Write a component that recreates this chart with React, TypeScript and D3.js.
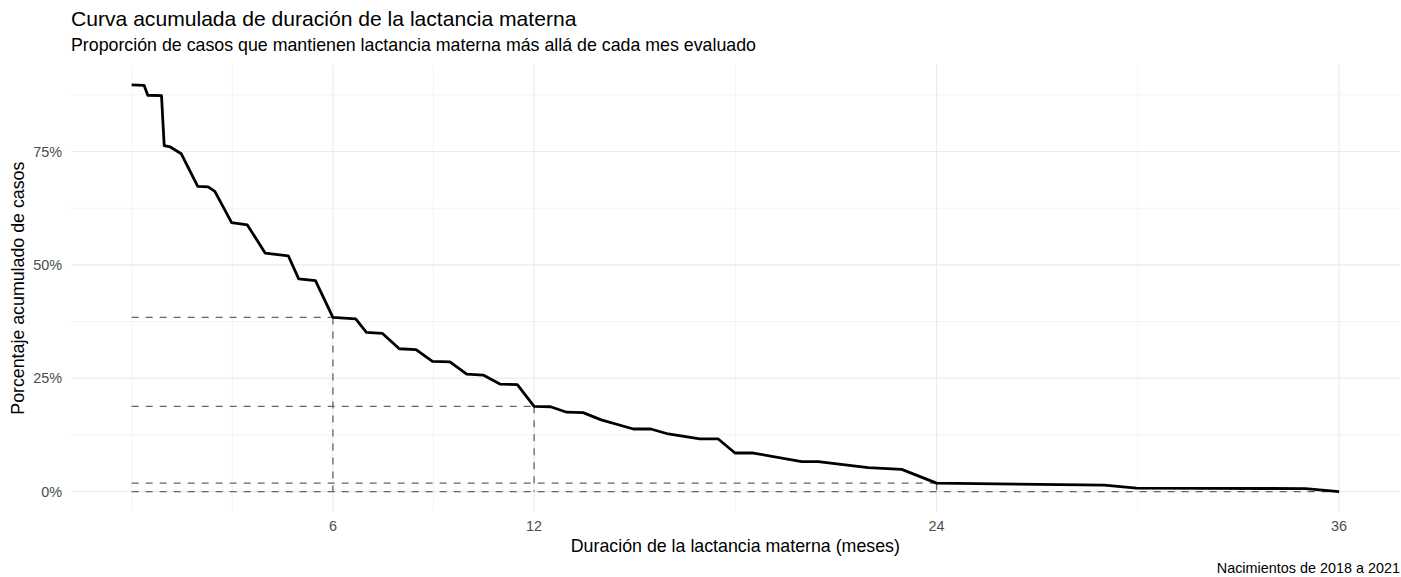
import React from "react";
import * as d3 from "d3";

const months = [0, 0.37, 0.48, 0.89, 0.97, 1.15, 1.48, 1.97, 2.28, 2.48, 2.98, 3.45, 3.98, 4.67, 4.98, 5.48, 6.0, 6.68, 7.0, 7.47, 7.98, 8.48, 8.97, 9.49, 9.99, 10.48, 10.98, 11.5, 12.0, 12.49, 12.97, 13.46, 14.0, 14.96, 15.48, 16.0, 16.94, 17.49, 17.99, 18.53, 19.98, 20.47, 21.96, 22.96, 24.0, 29.0, 29.96, 35.0, 36.0];
const percents = [89.7, 89.6, 87.4, 87.3, 76.3, 76.0, 74.5, 67.3, 67.2, 66.2, 59.3, 58.8, 52.6, 52.0, 46.9, 46.5, 38.4, 38.1, 35.1, 34.9, 31.5, 31.3, 28.7, 28.6, 25.9, 25.7, 23.7, 23.6, 18.8, 18.7, 17.5, 17.4, 15.8, 13.8, 13.8, 12.7, 11.6, 11.6, 8.5, 8.5, 6.6, 6.6, 5.3, 4.9, 1.85, 1.4, 0.75, 0.66, 0];

const markMonths = [6, 12, 24, 36];
const markValues = [38.4, 18.8, 1.85, 0];

const xBreaks = [6, 12, 24, 36];
const xMinor = [0, 3, 9, 18, 30];
const yBreaks = [0, 25, 50, 75];
const yMinor = [12.5, 37.5, 62.5, 87.5];

const title = "Curva acumulada de duración de la lactancia materna";
const subtitle = "Proporción de casos que mantienen lactancia materna más allá de cada mes evaluado";
const xTitle = "Duración de la lactancia materna (meses)";
const yTitle = "Porcentaje acumulado de casos";
const caption = "Nacimientos de 2018 a 2021";

const W = 1401;
const H = 577;
const panel = { left: 71.3, right: 1399.4, top: 64.5, bottom: 511.9 };
const FONT = "'Liberation Sans', Arial, Helvetica, sans-serif";

export default function App() {
  const xMin = d3.min(months)!;
  const xMax = d3.max(months)!;
  const xPad = (xMax - xMin) * 0.05;
  const yMin = d3.min(percents)!;
  const yMax = d3.max(percents)!;
  const yPad = (yMax - yMin) * 0.05;

  const x = d3.scaleLinear().domain([xMin - xPad, xMax + xPad]).range([panel.left, panel.right]);
  const y = d3.scaleLinear().domain([yMin - yPad, yMax + yPad]).range([panel.bottom, panel.top]);

  const data = months.map((m, i) => [m, percents[i]] as [number, number]);
  const line = d3.line<[number, number]>().x((d) => x(d[0])).y((d) => y(d[1]));

  const midX = (panel.left + panel.right) / 2;
  const midY = (panel.top + panel.bottom) / 2;

  return (
    <svg width={W} height={H} style={{ position: "absolute", left: 0, top: 0, background: "#fff" }} fontFamily={FONT}>
      <rect width={W} height={H} fill="#fff" />
      {/* grid */}
      {xMinor.map((v) => (
        <line key={"xm" + v} x1={x(v)} x2={x(v)} y1={panel.top} y2={panel.bottom} stroke="#EBEBEB" strokeWidth={0.6} />
      ))}
      {yMinor.map((v) => (
        <line key={"ym" + v} x1={panel.left} x2={panel.right} y1={y(v)} y2={y(v)} stroke="#EBEBEB" strokeWidth={0.6} />
      ))}
      {xBreaks.map((v) => (
        <line key={"xM" + v} x1={x(v)} x2={x(v)} y1={panel.top} y2={panel.bottom} stroke="#EBEBEB" strokeWidth={1.2} />
      ))}
      {yBreaks.map((v) => (
        <line key={"yM" + v} x1={panel.left} x2={panel.right} y1={y(v)} y2={y(v)} stroke="#EBEBEB" strokeWidth={1.2} />
      ))}
      {/* dashed reference segments */}
      {markMonths.map((m, i) => (
        <g key={"mk" + m}>
          <line x1={x(xMin)} x2={x(m)} y1={y(markValues[i])} y2={y(markValues[i])} stroke="#666" strokeWidth={1.3} strokeDasharray="7,7" />
          <line x1={x(m)} x2={x(m)} y1={y(markValues[i])} y2={y(0)} stroke="#666" strokeWidth={1.3} strokeDasharray="7,7" />
        </g>
      ))}
      {/* curve */}
      <path d={line(data) || ""} fill="none" stroke="#000" strokeWidth={2.8} strokeLinejoin="round" />
      {/* axis labels */}
      {yBreaks.map((v) => (
        <text key={"yl" + v} x={62} y={y(v)} dy="0.35em" textAnchor="end" fontSize={14.4} fill="#4D4D4D">
          {v + "%"}
        </text>
      ))}
      {xBreaks.map((v) => (
        <text key={"xl" + v} x={x(v)} y={531} textAnchor="middle" fontSize={14.4} fill="#4D4D4D">
          {v}
        </text>
      ))}
      <text x={midX} y={551.5} textAnchor="middle" fontSize={17.8} fill="#000">
        {xTitle}
      </text>
      <text transform={`translate(24, ${midY}) rotate(-90)`} textAnchor="middle" fontSize={17.8} fill="#000">
        {yTitle}
      </text>
      <text x={71} y={25.5} fontSize={21.1} fill="#000">
        {title}
      </text>
      <text x={71} y={50.5} fontSize={17.8} fill="#000">
        {subtitle}
      </text>
      <text x={1400} y={573} textAnchor="end" fontSize={14.4} fill="#000">
        {caption}
      </text>
    </svg>
  );
}
